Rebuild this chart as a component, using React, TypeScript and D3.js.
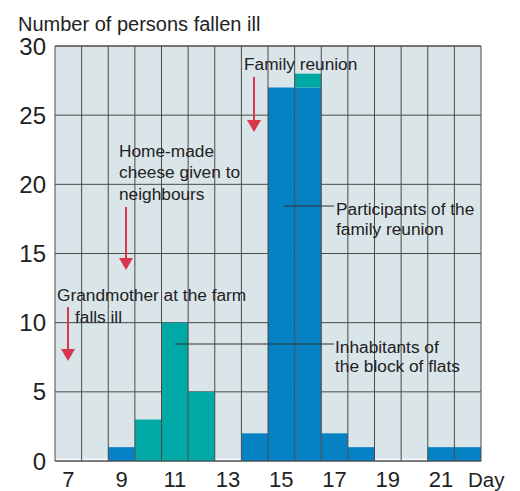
import React from "react";
import * as d3 from "d3";

// days on the x axis, one column per day
const days = [7, 8, 9, 10, 11, 12, 13, 14, 15, 16, 17, 18, 19, 20, 21, 22];
// participants of the family reunion (blue)
const reunion = [0, 0, 1, 0, 0, 0, 0, 2, 27, 27, 2, 1, 0, 0, 1, 1];
// inhabitants of the block of flats (teal)
const flats = [0, 0, 0, 3, 10, 5, 0, 0, 0, 1, 0, 0, 0, 0, 0, 0];
const yTicks = [0, 5, 10, 15, 20, 25, 30];
const xLabels = [7, 9, 11, 13, 15, 17, 19, 21];

const W = 520;
const H = 491;
const m = { left: 55, right: 481, top: 46, bottom: 461 };
const font = "Liberation Sans, Arial, sans-serif";

const BLUE = "#0581c4";
const TEAL = "#00a8a6";
const BG = "#dae5ea";
const RED = "#d9364f";
const GRID = "#4a4a4a";
const NOTE = 17.3;

function Arrow({ x, y1, y2 }: { x: number; y1: number; y2: number }) {
  return (
    <g>
      <line x1={x} x2={x} y1={y1} y2={y2 - 10} stroke={RED} strokeWidth={2} />
      <path d={`M${x - 7},${y2 - 12}L${x + 7},${y2 - 12}L${x},${y2}Z`} fill={RED} />
    </g>
  );
}

export default function App() {
  const x = d3
    .scaleBand<number>()
    .domain(days)
    .range([m.left, m.right])
    .padding(0);
  const y = d3.scaleLinear().domain([0, 30]).range([m.bottom, m.top]);

  const stacked = days.map((d, i) => ({
    day: d,
    blue: reunion[i],
    teal: flats[i],
  }));

  const txt = { fontFamily: font, fill: "#222" };

  return (
    <svg width={W} height={H} style={{ position: "absolute", left: 0, top: 0 }}>
      <rect x={m.left} y={m.top} width={m.right - m.left} height={m.bottom - m.top} fill={BG} />
      {/* horizontal grid behind bars */}
      {yTicks.map((t) => (
        <line key={t} x1={m.left} x2={m.right} y1={y(t)} y2={y(t)} stroke={GRID} strokeWidth={1} />
      ))}
      <line x1={m.left} x2={m.right} y1={m.bottom - 1.5} y2={m.bottom - 1.5} stroke="#fff" strokeWidth={1.5} />
      {/* bars */}
      {stacked.map((d) => (
        <g key={d.day}>
          {d.blue > 0 && (
            <rect x={x(d.day)} width={x.bandwidth()} y={y(d.blue)} height={y(0) - y(d.blue)} fill={BLUE} />
          )}
          {d.teal > 0 && (
            <rect
              x={x(d.day)}
              width={x.bandwidth()}
              y={y(d.blue + d.teal)}
              height={y(d.blue) - y(d.blue + d.teal)}
              fill={TEAL}
            />
          )}
        </g>
      ))}
      {/* vertical grid over bars */}
      {days.map((d) => (
        <line key={d} x1={x(d)} x2={x(d)} y1={m.top} y2={m.bottom} stroke={GRID} strokeWidth={1} />
      ))}
      <line x1={m.right} x2={m.right} y1={m.top} y2={m.bottom} stroke={GRID} strokeWidth={1} />
      <line x1={m.left} x2={m.right} y1={m.bottom} y2={m.bottom} stroke={GRID} strokeWidth={1.2} />
      <line x1={m.left} x2={m.right} y1={m.top} y2={m.top} stroke={GRID} strokeWidth={1} />

      {/* y tick labels */}
      {yTicks.map((t) => (
        <text key={t} x={46} y={y(t)} dy="0.36em" textAnchor="end" fontSize={24} {...txt}>
          {t}
        </text>
      ))}
      {/* x tick labels */}
      {xLabels.map((d) => (
        <text key={d} x={(x(d) as number) + x.bandwidth() / 2} y={487} textAnchor="middle" fontSize={22} {...txt}>
          {d}
        </text>
      ))}
      <text x={468} y={487} fontSize={20.5} {...txt}>Day</text>
      <text x={18} y={31} fontSize={20} {...txt}>Number of persons fallen ill</text>

      {/* annotations */}
      <text x={244} y={70} fontSize={NOTE} {...txt}>Family reunion</text>
      <Arrow x={254} y1={77} y2={132} />

      <text fontSize={NOTE} {...txt}>
        <tspan x={119} y={157}>Home-made</tspan>
        <tspan x={119} y={178}>cheese given to</tspan>
        <tspan x={119} y={200}>neighbours</tspan>
      </text>
      <Arrow x={126} y1={207} y2={270} />

      <text fontSize={NOTE} {...txt}>
        <tspan x={57} y={301}>Grandmother at the farm</tspan>
        <tspan x={75} y={323}>falls ill</tspan>
      </text>
      <Arrow x={68} y1={307} y2={361} />

      <line x1={284} x2={334} y1={206} y2={206} stroke="#333" strokeWidth={1.2} />
      <text fontSize={NOTE} {...txt}>
        <tspan x={336} y={215}>Participants of the</tspan>
        <tspan x={336} y={235}>family reunion</tspan>
      </text>

      <line x1={175} x2={334} y1={344} y2={344} stroke="#333" strokeWidth={1.2} />
      <text fontSize={NOTE} {...txt}>
        <tspan x={335} y={353}>Inhabitants of</tspan>
        <tspan x={335} y={372}>the block of flats</tspan>
      </text>
    </svg>
  );
}
